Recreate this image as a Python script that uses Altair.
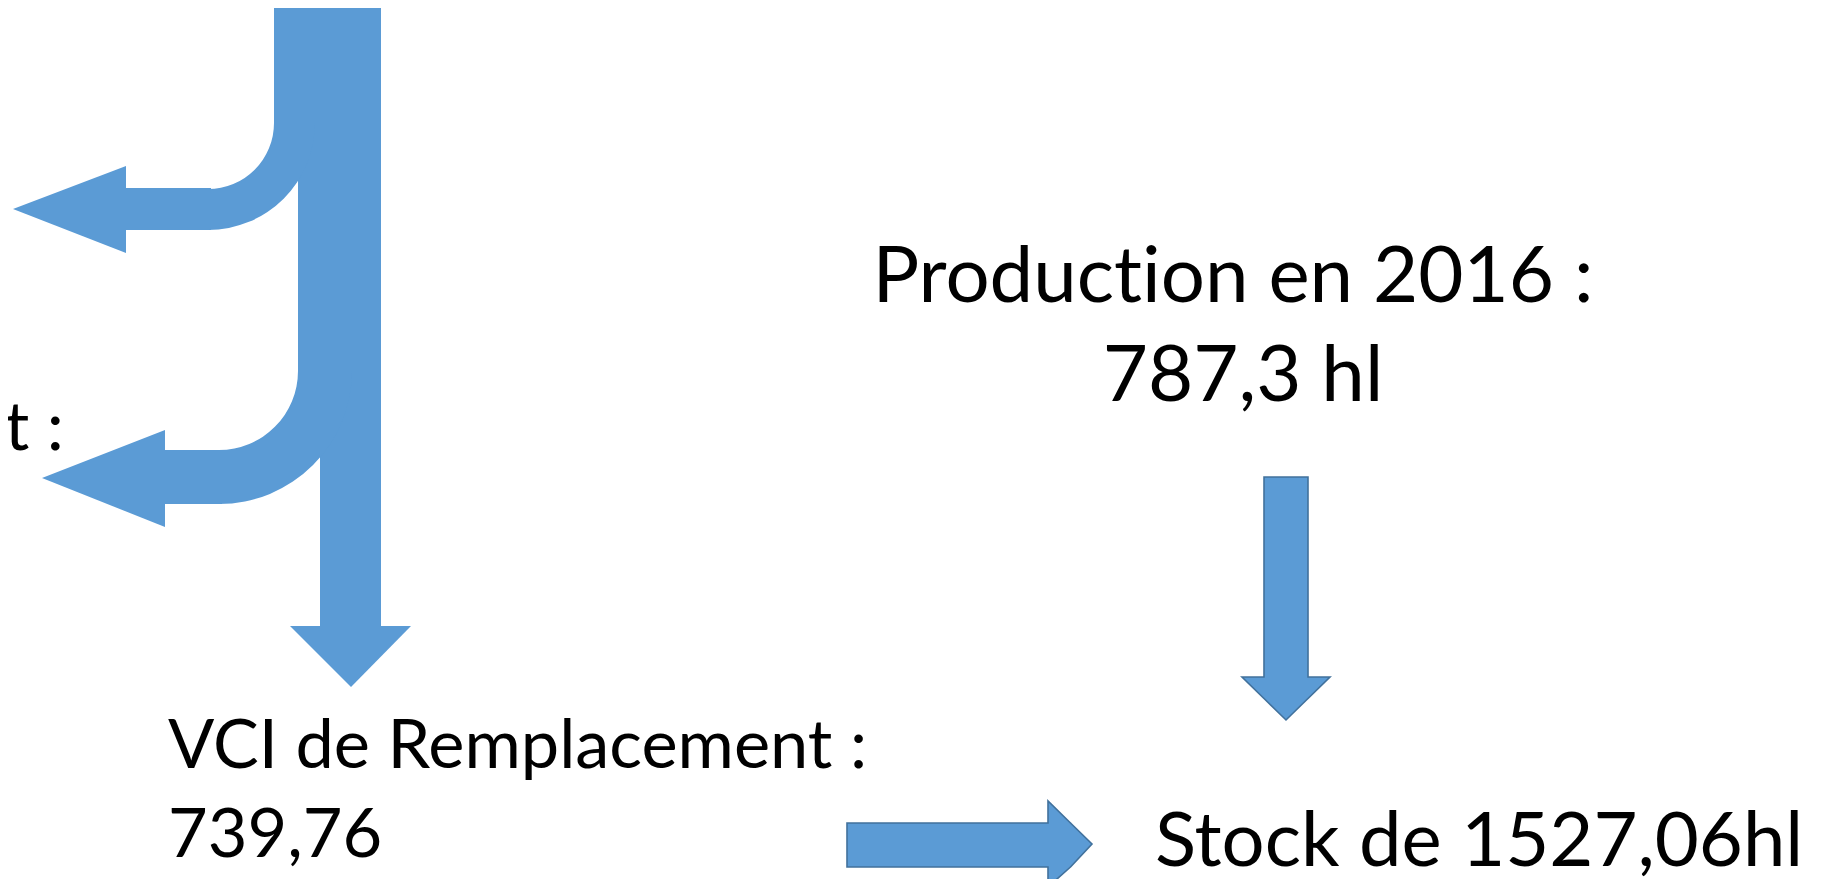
import math
import altair as alt
import pandas as pd

# ---- text content -------------------------------------------------------
# (a zero-width non-joiner keeps "t" and "i" as separate glyphs, as in the original)
prod_lines = ["Product\u200cion en 2016 :", "787,3 hl"]
vci_lines = ["VCI de Remplacement :", "739,76"]
stock_lines = ["Stock de 1527,06hl"]
cut_lines = ["t :"]

# ---- text placement (pixel-space layout) --------------------------------
prod_x = [1233, 1243]
prod_y = [302, 401]
vci_x = [168, 168]
vci_y = [768, 857]
stock_x = [1155]
stock_y = [866]
cut_x = [64]
cut_y = [450]

# ---- flow diagram geometry ---------------------------------------------
trunk_x = [274, 298, 320]
trunk_x2 = [381, 381, 381]
trunk_y = [5, 122, 369]
trunk_y2 = [124, 372, 627]

shaft_x = [126, 165]
shaft_x2 = [211, 222]
shaft_y = [188, 450]
shaft_y2 = [230, 504]

bend_cx = [208, 219]
bend_cy = [123, 371]
bend_r_in = [66, 79]
bend_r_out = [107, 133]

# left-pointing heads (horizontal areas)
lhead_id = ["a", "a", "a", "b", "b", "b"]
lhead_y = [166, 209, 253, 430, 478, 527]
lhead_x = [126, 13, 126, 165, 42, 165]
lhead_x2 = [126, 126, 126, 165, 165, 165]

# trunk head (vertical area)
dhead_x = [290, 351, 411]
dhead_y = [626, 626, 626]
dhead_y2 = [626, 687, 626]

# outlined down arrow (vertical area)
darrow_x = [1242, 1263.99, 1264.01, 1286, 1307.99, 1308.01, 1330]
darrow_y = [677, 677, 477, 477, 477, 677, 677]
darrow_y2 = [677, 698.5, 698.5, 720, 698.5, 698.5, 677]

# outlined right arrow (horizontal area)
rarrow_y = [801, 822.99, 823.01, 844, 866.99, 867.01, 887]
rarrow_x = [1048, 1048, 847, 847, 847, 1048, 1048]
rarrow_x2 = [1048, 1070.5, 1070.5, 1092, 1070.5, 1070.5, 1048]

BLUE = "#5B9BD5"
EDGE = "#41719C"
FONT = "Lato"

W, H = 1823, 871
xs = alt.Scale(domain=[8, 8 + W], nice=False, zero=False)
ys = alt.Scale(domain=[8, 8 + H], nice=False, zero=False, reverse=True)


def X(f):
    return alt.X(f, scale=xs, axis=None)


def Y(f):
    return alt.Y(f, scale=ys, axis=None)


trunk = alt.Chart(pd.DataFrame({"x": trunk_x, "x2": trunk_x2, "y": trunk_y, "y2": trunk_y2})).mark_rect(
    color=BLUE
).encode(x=X("x:Q"), x2="x2:Q", y=Y("y:Q"), y2="y2:Q")

shafts = alt.Chart(pd.DataFrame({"x": shaft_x, "x2": shaft_x2, "y": shaft_y, "y2": shaft_y2})).mark_rect(
    color=BLUE
).encode(x=X("x:Q"), x2="x2:Q", y=Y("y:Q"), y2="y2:Q")

bends = alt.Chart(
    pd.DataFrame({"cx": bend_cx, "cy": bend_cy, "ri": bend_r_in, "ro": bend_r_out})
).mark_arc(color=BLUE).encode(
    x=X("cx:Q"),
    y=Y("cy:Q"),
    radius=alt.Radius("ro:Q", scale=None),
    radius2="ri:Q",
    theta=alt.value(math.pi / 2),
    theta2=alt.value(math.pi),
)

lheads = alt.Chart(
    pd.DataFrame({"id": lhead_id, "y": lhead_y, "x": lhead_x, "x2": lhead_x2})
).mark_area(color=BLUE, orient="horizontal").encode(
    y=Y("y:Q"), x=X("x:Q"), x2="x2:Q", detail="id:N"
)

dhead = alt.Chart(
    pd.DataFrame({"x": dhead_x, "y": dhead_y, "y2": dhead_y2})
).mark_area(color=BLUE, orient="vertical").encode(
    x=X("x:Q"), y=Y("y:Q"), y2="y2:Q"
)

darrow = alt.Chart(
    pd.DataFrame({"x": darrow_x, "y": darrow_y, "y2": darrow_y2})
).mark_area(fill=BLUE, stroke=EDGE, strokeWidth=1.6, orient="vertical", fillOpacity=1).encode(
    x=X("x:Q"), y=Y("y:Q"), y2="y2:Q"
)

rarrow = alt.Chart(
    pd.DataFrame({"y": rarrow_y, "x": rarrow_x, "x2": rarrow_x2})
).mark_area(fill=BLUE, stroke=EDGE, strokeWidth=1.6, orient="horizontal", fillOpacity=1).encode(
    y=Y("y:Q"), x=X("x:Q"), x2="x2:Q"
)


def text_layer(lines, xv, yv, size, align):
    df = pd.DataFrame({"t": lines, "x": xv, "y": yv})
    return alt.Chart(df).mark_text(
        align=align, baseline="alphabetic", font=FONT, fontSize=size, color="#000000"
    ).encode(x=X("x:Q"), y=Y("y:Q"), text="t:N")


prod_txt = text_layer(prod_lines, prod_x, prod_y, 78, "center")
vci_txt = text_layer(vci_lines, vci_x, vci_y, 68.5, "left")
stock_txt = text_layer(stock_lines, stock_x, stock_y, 76, "left")
cut_txt = text_layer(cut_lines, cut_x, cut_y, 68.5, "right")

chart = (
    alt.layer(trunk, shafts, bends, lheads, dhead, darrow, rarrow, prod_txt, vci_txt, stock_txt, cut_txt)
    .properties(width=W, height=H, padding=0, autosize=alt.AutoSizeParams(type="none"), background="white")
    .configure_view(strokeWidth=0)
)

chart.save("out.html", embed_options={"renderer": "svg", "actions": False})
